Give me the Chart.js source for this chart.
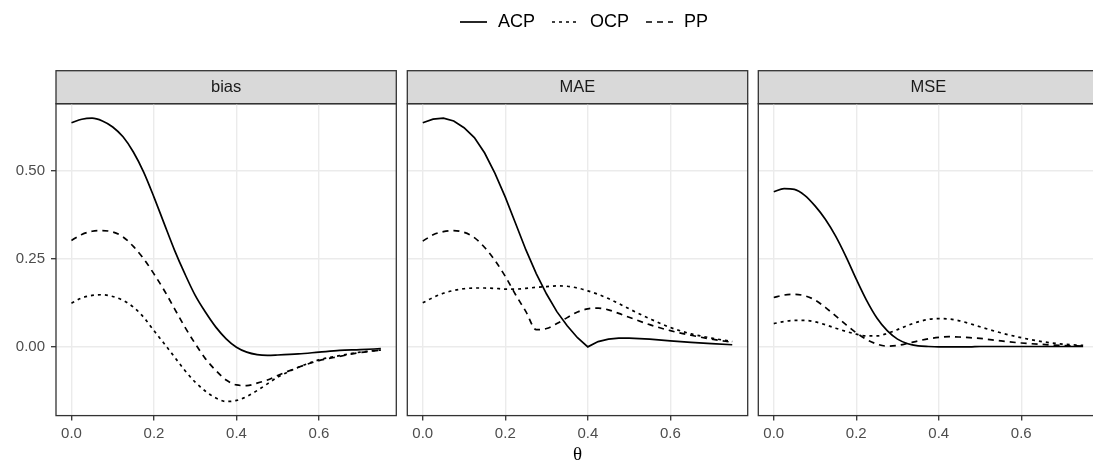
<!DOCTYPE html>
<html><head><meta charset="utf-8">
<script src="https://cdn.jsdelivr.net/npm/chart.js@4.4.0/dist/chart.umd.min.js"></script>
<style>
html,body{margin:0;padding:0;background:#fff;overflow:hidden;width:1093px;height:464px;position:relative}
canvas{position:absolute;top:0}
</style></head><body>
<canvas id="leg" width="1093" height="64" style="left:0"></canvas>
<canvas id="p1" width="402" height="464" style="left:0"></canvas>
<canvas id="p2" width="351" height="464" style="left:402px"></canvas>
<canvas id="p3" width="351" height="464" style="left:753px"></canvas>
<script>
const theta = [0,0.025,0.05,0.075,0.1,0.125,0.15,0.175,0.2,0.225,0.25,0.275,0.3,0.325,0.35,0.375,0.4,0.425,0.45,0.475,0.5,0.55,0.6,0.65,0.7,0.75];

const biasACP = [0.636,0.646,0.649,0.641,0.624,0.596,0.553,0.496,0.425,0.349,0.274,0.207,0.146,0.098,0.056,0.023,-0.001,-0.015,-0.022,-0.024,-0.023,-0.020,-0.015,-0.010,-0.008,-0.005];
const biasOCP = [0.124,0.139,0.146,0.148,0.143,0.132,0.113,0.084,0.046,0.009,-0.029,-0.067,-0.100,-0.126,-0.145,-0.155,-0.152,-0.141,-0.124,-0.105,-0.086,-0.058,-0.037,-0.025,-0.015,-0.009];
const biasPP  = [0.302,0.319,0.328,0.330,0.326,0.312,0.285,0.250,0.207,0.160,0.108,0.056,0.009,-0.034,-0.067,-0.094,-0.108,-0.110,-0.103,-0.094,-0.081,-0.058,-0.039,-0.027,-0.016,-0.009];

const maeACP = [0.636,0.646,0.649,0.641,0.622,0.594,0.550,0.492,0.425,0.350,0.275,0.208,0.150,0.100,0.060,0.026,0.000,0.015,0.022,0.025,0.025,0.022,0.017,0.013,0.009,0.006];
const maeOCP = [0.125,0.140,0.152,0.160,0.165,0.167,0.167,0.166,0.164,0.164,0.166,0.169,0.171,0.173,0.172,0.167,0.159,0.149,0.137,0.123,0.108,0.080,0.055,0.037,0.025,0.015];
const maePP  = [0.300,0.318,0.327,0.330,0.325,0.310,0.282,0.245,0.200,0.148,0.100,0.049,0.052,0.066,0.083,0.099,0.108,0.110,0.105,0.095,0.084,0.063,0.046,0.033,0.022,0.013];

const mseACP = [0.440,0.449,0.447,0.430,0.400,0.362,0.314,0.256,0.192,0.132,0.082,0.046,0.022,0.009,0.003,0.001,0.000,0.000,0.000,0.000,0.001,0.001,0.001,0.001,0.001,0.001];
const mseOCP = [0.066,0.072,0.075,0.075,0.071,0.063,0.053,0.044,0.036,0.031,0.031,0.038,0.049,0.061,0.071,0.078,0.080,0.079,0.074,0.066,0.057,0.040,0.026,0.015,0.008,0.004];
const msePP  = [0.140,0.147,0.149,0.145,0.133,0.112,0.088,0.063,0.040,0.021,0.008,0.002,0.004,0.010,0.017,0.023,0.027,0.029,0.028,0.026,0.024,0.017,0.011,0.007,0.004,0.002];

const seriesNames = ['ACP','OCP','PP'];
const panelNames = ['bias','MAE','MSE'];
const xTicks = [0,0.2,0.4,0.6];
const xTickLabels = ['0.0','0.2','0.4','0.6'];
const yTicks = [0,0.25,0.5];
const yTickLabels = ['0.00','0.25','0.50'];
const axisTitle = 'θ';

const SANS = "'Liberation Sans', Arial, sans-serif";
const SERIF = "'Liberation Serif', 'DejaVu Serif', serif";
const dashes = [[], [3,4], [6,5]];
const LW = 1.7;

function swatch(dash){
  const c = document.createElement('canvas');
  c.width = 29; c.height = 6;
  const g = c.getContext('2d');
  g.strokeStyle = '#000'; g.lineWidth = LW; g.setLineDash(dash);
  g.beginPath(); g.moveTo(0,3); g.lineTo(27,3); g.stroke();
  return c;
}
const swatches = dashes.map(swatch);

new Chart(document.getElementById('leg'), {
  type: 'line',
  data: { labels: [], datasets: seriesNames.map((n,i)=>({label:n, data:[], borderColor:'#000', borderWidth:LW, borderDash:dashes[i]})) },
  options: {
    responsive:false, animation:false, events:[], devicePixelRatio:1,
    layout:{padding:{top:-4, left:75}},
    scales:{x:{display:false}, y:{display:false}},
    plugins:{
      tooltip:{enabled:false},
      legend:{display:true, position:'top', align:'center', maxHeight:60,
        labels:{usePointStyle:true, pointStyleWidth:29, padding:17, color:'#000',
          font:{family:SANS, size:18},
          generateLabels:()=>seriesNames.map((n,i)=>({text:n, pointStyle:swatches[i], fillStyle:'rgba(0,0,0,0)', strokeStyle:'#000', lineWidth:0, hidden:false, datasetIndex:i, fontColor:'#000'}))
        }
      }
    }
  }
});

const STRIP_TOP = 70.7;
const facetPlugin = {
  id:'facet',
  beforeDraw(chart){
    const a = chart.chartArea, ctx = chart.ctx;
    ctx.save();
    ctx.fillStyle = '#D9D9D9';
    ctx.fillRect(a.left, STRIP_TOP, a.right-a.left, a.top-STRIP_TOP);
    ctx.strokeStyle = '#333333'; ctx.lineWidth = 1.3;
    ctx.strokeRect(a.left, STRIP_TOP, a.right-a.left, a.top-STRIP_TOP);
    ctx.restore();
  },
  afterDraw(chart){
    const a = chart.chartArea, ctx = chart.ctx;
    ctx.save();
    ctx.strokeStyle = '#333333'; ctx.lineWidth = 1.3;
    ctx.strokeRect(a.left, a.top, a.right-a.left, a.bottom-a.top);
    ctx.restore();
  }
};

function panel(id, name, series, yWidth, padRight, showY, showTitle){
  return new Chart(document.getElementById(id), {
    type:'line',
    data:{ datasets: seriesNames.map((n,i)=>({
      label:n,
      data: theta.map((t,j)=>({x:t, y:series[i][j]})),
      borderColor:'#000', borderWidth:LW, borderDash:dashes[i], borderCapStyle:'butt',
      pointRadius:0, fill:false,
      cubicInterpolationMode: (name==='MAE' && n==='ACP') ? 'default' : 'monotone',
      tension: 0
    }))},
    options:{
      responsive:false, animation:false, events:[], devicePixelRatio:1,
      layout:{padding:{top:STRIP_TOP, right:padRight, left:0, bottom:0}},
      plugins:{
        legend:{display:false}, tooltip:{enabled:false},
        title:{display:true, text:name, fullSize:false, color:'#1A1A1A',
          font:{family:SANS, size:16.5, weight:'normal', lineHeight:1.2},
          padding:{top:6.6, bottom:6.6}}
      },
      scales:{
        x:{type:'linear', min:-0.0375, max:0.7875,
          afterBuildTicks:s=>{s.ticks = xTicks.map(v=>({value:v}));},
          afterFit:s=>{s.height = 48.4;},
          ticks:{callback:(v)=>xTickLabels[xTicks.indexOf(v)], color:'#4D4D4D', font:{family:SANS,size:15}, padding:4, maxRotation:0, autoSkip:false},
          grid:{color:'#EBEBEB', lineWidth:1.4, tickLength:5, tickColor:'#333333', tickWidth:1.3},
          border:{display:false},
          title:{display:showTitle, text:axisTitle, color:'#000', font:{family:SERIF, size:19, lineHeight:0.9}, padding:0}
        },
        y:{type:'linear', min:-0.195, max:0.690,
          afterBuildTicks:s=>{s.ticks = yTicks.map(v=>({value:v}));},
          afterFit:s=>{s.width = yWidth;},
          ticks:{display:showY, callback:(v)=>yTickLabels[yTicks.indexOf(v)], color:'#4D4D4D', font:{family:SANS,size:15}, padding:6},
          grid:{color:'#EBEBEB', lineWidth:1.4, drawTicks:showY, tickLength:5, tickColor:'#333333', tickWidth:1.3},
          border:{display:false}
        }
      }
    },
    plugins:[facetPlugin]
  });
}

panel('p1', panelNames[0], [biasACP, biasOCP, biasPP], 56, 402-396.3, true, false);
panel('p2', panelNames[1], [maeACP, maeOCP, maePP], 5.3, 351-345.7, false, true);
panel('p3', panelNames[2], [mseACP, mseOCP, msePP], 5.3, 351-345.6, false, false);
</script>
</body></html>
